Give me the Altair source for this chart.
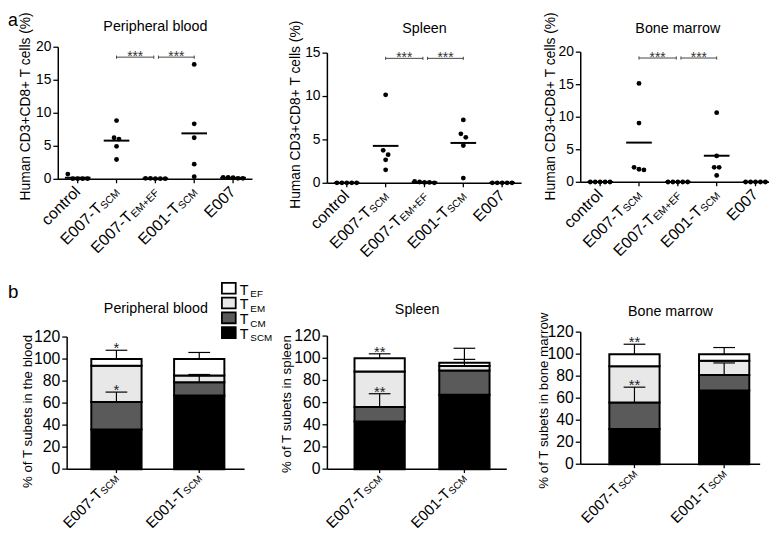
import altair as alt
import pandas as pd

FONT = "Liberation Sans"

# ---------------- panel a data ----------------
groups = ["control", "E007-TSCM", "E007-TEM+EF", "E001-TSCM", "E007"]
group_main = ["control", "E007-T", "E007-T", "E001-T", "E007"]
group_sub = ["", "SCM", "EM+EF", "SCM", ""]

pb_control = [0.8, 0.1, 0.1, 0.1, 0.1]
pb_e007_tscm = [8.9, 6.3, 6.1, 5.0, 3.0]
pb_e007_temef = [0.15, 0.1, 0.1, 0.1, 0.15]
pb_e001_tscm = [17.4, 8.4, 6.3, 2.3, 0.4]
pb_e007 = [0.3, 0.3, 0.15, 0.15, 0.25]

sp_control = [0.05, 0.05, 0.05, 0.05, 0.05]
sp_e007_tscm = [10.2, 3.8, 3.3, 2.7, 1.55]
sp_e007_temef = [0.2, 0.1, 0.05, 0.1, 0.15]
sp_e001_tscm = [7.3, 5.7, 5.3, 4.35, 0.6]
sp_e007 = [0.05, 0.05, 0.05, 0.05, 0.05]

bm_control = [0.05, 0.05, 0.05, 0.05, 0.05]
bm_e007_tscm = [15.2, 9.1, 2.3, 2.0, 1.9]
bm_e007_temef = [0.05, 0.05, 0.05, 0.05, 0.05]
bm_e001_tscm = [10.7, 4.05, 2.3, 2.3, 1.06]
bm_e007 = [0.05, 0.05, 0.05, 0.05, 0.05]

top_ytitle = "Human CD3+CD8+ T cells (%)"
sig_pairs = [(1, 2), (2, 3)]
sig_label = "***"
pb_bracket_y = 18.5
sp_bracket_y = 14.4
bm_bracket_y = 19.1

# ---------------- panel b data ----------------
bar_main = ["E007-T", "E001-T"]
bar_sub = ["SCM", "SCM"]
subsets = ["TSCM", "TCM", "TEM", "TEF"]
subset_sub = ["SCM", "CM", "EM", "EF"]
subset_colors = ["#000000", "#5a5a5a", "#e8e8e8", "#ffffff"]
bot_ticks = [0, 20, 40, 60, 80, 100, 120]

pb_e007_pct = [36, 25, 33, 6]
pb_e007_sd = [0, 9, 0, 8]
pb_e001_pct = [67, 12, 6, 15]
pb_e001_sd = [0, 6, 1, 6]
sp_e007_pct = [43, 13, 32, 12]
sp_e007_sd = [0, 12, 0, 4]
sp_e001_pct = [67, 22, 4, 3]
sp_e001_sd = [0, 0, 6, 13]
bm_e007_pct = [32, 24, 33, 11]
bm_e007_sd = [0, 14, 0, 9]
bm_e001_pct = [67, 14, 13, 6]
bm_e001_sd = [0, 11, 0, 6]
pb_stars = ["", "*", "", "*"]
sp_stars = ["", "**", "", "**"]
bm_stars = ["", "**", "", "**"]

# ---------------- layout (reference pixels) ----------------
GLYPH_W = {"S": 667, "C": 722, "M": 833, "E": 667, "F": 611, "+": 584, "T": 611}


def text_w(s, fs):
    return sum(GLYPH_W[c] for c in s) * fs / 1000.0


TOP_Y = 44
TOP_H = 138
BOT_Y = 333

LT = {
    "pb": dict(axis_x=59, ref_end=256, draw_end=256, cell_left=68, cell_w=253, y0=178, yT=44, T=20,
               ticks=[0, 5, 10, 15, 20], title_base=27.5, ytx=26, yty=104,
               title="Peripheral blood"),
    "sp": dict(axis_x=321, ref_end=518, draw_end=518, cell_left=321, cell_w=257, y0=182, yT=50, T=15,
               ticks=[0, 5, 10, 15], title_base=29.5, ytx=289.5, yty=112.5,
               title="Spleen"),
    "bm": dict(axis_x=578, ref_end=775, draw_end=769, cell_left=578, cell_w=190, y0=181, yT=49, T=20,
               ticks=[0, 5, 10, 15, 20], title_base=30, ytx=547.5, yty=104,
               title="Bone marrow"),
}
for L in LT.values():
    L["step"] = (L["ref_end"] - L["axis_x"]) / 5.0
    L["c0"] = L["axis_x"] + L["step"] / 2

LB = {
    "pb": dict(axis_x=68, draw_end=248, c0=118, step=84, cell_left=68, cell_w=264, y0=472, yT=338,
               T=120, title_base=313.5, ytx=28, yty=413.5, cell_h=139,
               title="Peripheral blood", ytitle="% of T subets in the blood"),
    "sp": dict(axis_x=332, draw_end=514, c0=385, step=86, cell_left=332, cell_w=251, y0=472, yT=337,
               T=120, title_base=314.5, ytx=291.5, yty=406, cell_h=139,
               title="Spleen", ytitle="% of T subets in spleen"),
    "bm": dict(axis_x=583, draw_end=765, c0=637.5, step=91, cell_left=583, cell_w=182, y0=467, yT=333,
               T=120, title_base=316.5, ytx=546, yty=402.5, cell_h=134,
               title="Bone marrow", ytitle="% of T subets in  bone marrow"),
}


def geometry(L, row_y, cell_h):
    ppu = (L["y0"] - L["yT"]) / L["T"]
    ydom = [-(row_y + cell_h - L["y0"]) / ppu, (L["y0"] - row_y) / ppu]
    xdom = [(L["cell_left"] - L["c0"]) / L["step"],
            (L["cell_left"] + L["cell_w"] - L["c0"]) / L["step"]]
    xa = (L["axis_x"] - L["c0"]) / L["step"]
    xe = (L["draw_end"] - L["c0"]) / L["step"]
    return ppu, xdom, ydom, xa, xe


def make_enc(xdom, ydom):
    def X(f):
        return alt.X(f, type="quantitative", scale=alt.Scale(domain=xdom, nice=False, zero=False), axis=None)

    def Y(f):
        return alt.Y(f, type="quantitative", scale=alt.Scale(domain=ydom, nice=False, zero=False), axis=None)
    return X, Y


def swarm(values, ppu, thresh=5.0, step_px=5.0):
    order = sorted(range(len(values)), key=lambda i: -values[i])
    clusters = []
    for i in order:
        if clusters and (values[clusters[-1][-1]] - values[i]) * ppu < thresh:
            clusters[-1].append(i)
        else:
            clusters.append([i])
    offs = [0.0] * len(values)
    for c in clusters:
        n = len(c)
        for k, i in enumerate(c):
            offs[i] = (k - (n - 1) / 2) * step_px
    return offs


def axes_layers(L, X, Y, xa, xe, ticks, lab_fs, title, title_fs, row_y, xticks):
    step = L["step"]
    vdf = pd.DataFrame({"x": [xa], "y1": [0], "y2": [L["T"]]})
    vline = alt.Chart(vdf).mark_rule(color="black", strokeWidth=1.5).encode(
        x=X("x"), y=Y("y1"), y2="y2:Q")
    hdf = pd.DataFrame({"x1": [xa], "x2": [xe], "y": [0]})
    hline = alt.Chart(hdf).mark_rule(color="black", strokeWidth=1.5).encode(
        x=X("x1"), x2="x2:Q", y=Y("y"))
    tdf = pd.DataFrame({"v": ticks, "x1": [xa - 5.0 / step] * len(ticks), "x2": [xa] * len(ticks),
                        "lab": [str(t) for t in ticks]})
    yt = alt.Chart(tdf).mark_rule(color="black", strokeWidth=1.3).encode(
        x=X("x1"), x2="x2:Q", y=Y("v"))
    ylab = alt.Chart(tdf).mark_text(font=FONT, fontSize=lab_fs, color="black", align="right",
                                    baseline="middle", dx=-2).encode(
        x=X("x1"), y=Y("v"), text="lab:N")
    ppu = (L["y0"] - L["yT"]) / L["T"]
    xdf = pd.DataFrame({"x": xticks, "y1": [0] * len(xticks), "y2": [-4.0 / ppu] * len(xticks)})
    xt = alt.Chart(xdf).mark_rule(color="black", strokeWidth=1.3).encode(
        x=X("x"), y=Y("y1"), y2="y2:Q")
    ytdf = pd.DataFrame({"t": [title]})
    ytitle = alt.Chart(ytdf).mark_text(font=FONT, fontSize=title_fs, color="black", angle=270,
                                       align="center", baseline="middle").encode(
        x=alt.value(L["ytx"] - L["cell_left"]), y=alt.value(L["yty"] - row_y), text="t:N")
    return [vline, hline, yt, ylab, xt, ytitle]


def label_layers(df, X, y_px, fs_main, fs_sub, base_dy):
    layers = []
    for sub in sorted(set(df["sub"])):
        d = df[df["sub"] == sub]
        w = text_w(sub, fs_sub)
        layers.append(alt.Chart(d).mark_text(
            angle=315, align="right", baseline="alphabetic", font=FONT, fontSize=fs_main,
            color="black", dx=-w - (0.5 if sub else 0), dy=base_dy).encode(
            x=X("x"), y=alt.value(y_px), text="main:N"))
        if sub:
            layers.append(alt.Chart(d).mark_text(
                angle=315, align="right", baseline="alphabetic", font=FONT, fontSize=fs_sub,
                color="black", dy=base_dy + 1).encode(
                x=X("x"), y=alt.value(y_px), text="sub:N"))
    return layers


def top_panel(key, series, bracket_y, letter=None):
    L = LT[key]
    ppu, xdom, ydom, xa, xe = geometry(L, TOP_Y, TOP_H)
    step = L["step"]
    X, Y = make_enc(xdom, ydom)

    rows = []
    for gi, vals in enumerate(series):
        offs = swarm(vals, ppu)
        for v, o in zip(vals, offs):
            rows.append({"g": gi, "val": v, "x": gi + o / step})
    pts = pd.DataFrame(rows)

    points = alt.Chart(pts).mark_circle(size=24, color="black", opacity=1).encode(
        x=X("x"), y=Y("val"))

    means = alt.Chart(pts).transform_aggregate(m="mean(val)", groupby=["g"]).transform_calculate(
        x1="datum.g - 0.33", x2="datum.g + 0.33").mark_rule(color="black", strokeWidth=2).encode(
        x=X("x1"), x2="x2:Q", y=Y("m"))

    brs = []
    for a, b in sig_pairs:
        x1 = a + (0.0 if a == 1 else 0.08)
        x2 = b - (0.04 if b == 2 else 0.0)
        brs.append({"x1": x1, "x2": x2, "y": bracket_y, "xm": (x1 + x2) / 2, "lab": sig_label})
    br = pd.DataFrame(brs)
    brackets = alt.Chart(br).mark_rule(color="#444", strokeWidth=1).encode(
        x=X("x1"), x2="x2:Q", y=Y("y"))
    ends = pd.DataFrame({"x": list(br["x1"]) + list(br["x2"]),
                         "y1": [bracket_y - 1.6 / ppu] * 4, "y2": [bracket_y + 1.6 / ppu] * 4})
    bends = alt.Chart(ends).mark_rule(color="#444", strokeWidth=1).encode(
        x=X("x"), y=Y("y1"), y2="y2:Q")
    stars = alt.Chart(br).mark_text(font=FONT, fontSize=14, color="#333", baseline="alphabetic",
                                    dy=4).encode(x=X("xm"), y=Y("y"), text="lab:N")

    lab = pd.DataFrame({"x": list(range(5)), "main": group_main, "sub": group_sub})
    labels = label_layers(lab, X, L["y0"] - TOP_Y + 10, 16, 10.5, 5)

    tdf = pd.DataFrame({"x": [(xa + (L["ref_end"] - L["c0"]) / step) / 2], "t": [L["title"]]})
    title = alt.Chart(tdf).mark_text(font=FONT, fontSize=14.5, color="black", baseline="alphabetic").encode(
        x=X("x"), y=alt.value(L["title_base"] - TOP_Y), text="t:N")

    layers = axes_layers(L, X, Y, xa, xe, L["ticks"], 14, top_ytitle, 14, TOP_Y, list(range(5)))
    layers += [points, means, brackets, bends, stars, title] + labels
    if letter:
        ldf = pd.DataFrame({"t": [letter]})
        layers.append(alt.Chart(ldf).mark_text(font=FONT, fontSize=18, color="black", align="left",
                                               baseline="top").encode(
            x=alt.value(8 - L["cell_left"]), y=alt.value(8 - TOP_Y), text="t:N"))
    return alt.layer(*layers).properties(width=L["cell_w"], height=TOP_H)


def bottom_panel(key, bars, letter=None, legend=False):
    L = LB[key]
    ppu, xdom, ydom, xa, xe = geometry(L, BOT_Y, L["cell_h"])
    hw = 25.5 / L["step"]
    cap = 11.0 / L["step"]
    X, Y = make_enc(xdom, ydom)

    rows = []
    for bi, (pcts, sds, stars) in enumerate(bars):
        cum = 0
        for si, (p, s, st) in enumerate(zip(pcts, sds, stars)):
            rows.append({"b": bi, "subset": subsets[si], "lo": cum, "hi": cum + p,
                         "sd": s, "star": st, "x1": bi - hw, "x2": bi + hw,
                         "c1": bi - cap, "c2": bi + cap, "top": cum + p + s})
            cum += p
    df = pd.DataFrame(rows)

    barl = alt.Chart(df).mark_bar(stroke="black", strokeWidth=2, opacity=1).encode(
        x=X("x1"), x2="x2:Q", y=Y("lo"), y2="hi:Q",
        fill=alt.Fill("subset:N", scale=alt.Scale(domain=subsets, range=subset_colors), legend=None))

    err = df[df["sd"] > 0]
    evert = alt.Chart(err).mark_rule(color="black", strokeWidth=1.2).encode(
        x=X("b"), y=Y("hi"), y2="top:Q")
    ecap = alt.Chart(err).mark_rule(color="black", strokeWidth=1.2).encode(
        x=X("c1"), x2="c2:Q", y=Y("top"))
    st = df[df["star"] != ""]
    estar = alt.Chart(st).mark_text(font=FONT, fontSize=15, color="#222", baseline="alphabetic",
                                    dy=3).encode(x=X("b"), y=Y("top"), text="star:N")

    lab = pd.DataFrame({"x": [0, 1], "main": bar_main, "sub": bar_sub})
    labels = label_layers(lab, X, L["y0"] - BOT_Y + 7, 15, 10, 4)

    tdf = pd.DataFrame({"x": [(xa + xe) / 2], "t": [L["title"]]})
    title = alt.Chart(tdf).mark_text(font=FONT, fontSize=14.5, color="black", baseline="alphabetic").encode(
        x=X("x"), y=alt.value(L["title_base"] - BOT_Y), text="t:N")

    layers = [barl, evert, ecap, estar]
    layers += axes_layers(L, X, Y, xa, xe, bot_ticks, 16, L["ytitle"], 13.5, BOT_Y, [0, 1])
    layers += [title] + labels
    if letter:
        ldf = pd.DataFrame({"t": [letter]})
        layers.append(alt.Chart(ldf).mark_text(font=FONT, fontSize=19, color="black", align="left",
                                               baseline="alphabetic").encode(
            x=alt.value(8 - L["cell_left"]), y=alt.value(298 - BOT_Y), text="t:N"))
    if legend:
        n = len(subsets)
        leg = pd.DataFrame({"subset": subsets[::-1], "sub": subset_sub[::-1], "i": list(range(n))})
        leg["T"] = "T"
        bx = 225 - L["cell_left"]
        by = 283 - BOT_Y
        boxes = alt.Chart(leg).transform_calculate(
            x1=f"{bx}", x2=f"{bx + 14}", y1=f"{by} + datum.i * 15", y2=f"{by + 11} + datum.i * 15"
        ).mark_rect(stroke="black", strokeWidth=1.8).encode(
            x=alt.X("x1:Q", scale=None), x2="x2:Q", y=alt.Y("y1:Q", scale=None), y2="y2:Q",
            fill=alt.Fill("subset:N", scale=alt.Scale(domain=subsets, range=subset_colors), legend=None))
        tt = alt.Chart(leg).transform_calculate(
            x=f"{bx + 18}", y=f"{by + 12} + datum.i * 15").mark_text(
            font=FONT, fontSize=14.5, align="left", baseline="alphabetic", color="black").encode(
            x=alt.X("x:Q", scale=None), y=alt.Y("y:Q", scale=None), text="T:N")
        ts = alt.Chart(leg).transform_calculate(
            x=f"{bx + 18 + text_w('T', 14.5) + 2}", y=f"{by + 14.5} + datum.i * 15").mark_text(
            font=FONT, fontSize=10, align="left", baseline="alphabetic", color="black").encode(
            x=alt.X("x:Q", scale=None), y=alt.Y("y:Q", scale=None), text="sub:N")
        layers += [boxes, tt, ts]
    return alt.layer(*layers).properties(width=L["cell_w"], height=L["cell_h"])


a1 = top_panel("pb", [pb_control, pb_e007_tscm, pb_e007_temef, pb_e001_tscm, pb_e007], pb_bracket_y, letter="a")
a2 = top_panel("sp", [sp_control, sp_e007_tscm, sp_e007_temef, sp_e001_tscm, sp_e007], sp_bracket_y)
a3 = top_panel("bm", [bm_control, bm_e007_tscm, bm_e007_temef, bm_e001_tscm, bm_e007], bm_bracket_y)

b1 = bottom_panel("pb", [(pb_e007_pct, pb_e007_sd, pb_stars), (pb_e001_pct, pb_e001_sd, ["", "", "", ""])],
                  letter="b", legend=True)
b2 = bottom_panel("sp", [(sp_e007_pct, sp_e007_sd, sp_stars), (sp_e001_pct, sp_e001_sd, ["", "", "", ""])])
b3 = bottom_panel("bm", [(bm_e007_pct, bm_e007_sd, bm_stars), (bm_e001_pct, bm_e001_sd, ["", "", "", ""])])

chart = alt.concat(a1, a2, a3, b1, b2, b3, columns=3, align="none", bounds="flush",
                   spacing={"row": BOT_Y - TOP_Y - TOP_H, "column": 0}).properties(
    padding={"left": 0, "top": 0, "right": 0, "bottom": 0}, background="white"
).configure(font=FONT).configure_view(strokeWidth=0, stroke="transparent")

chart.save("out.html", embed_options={"renderer": "svg", "actions": False})
